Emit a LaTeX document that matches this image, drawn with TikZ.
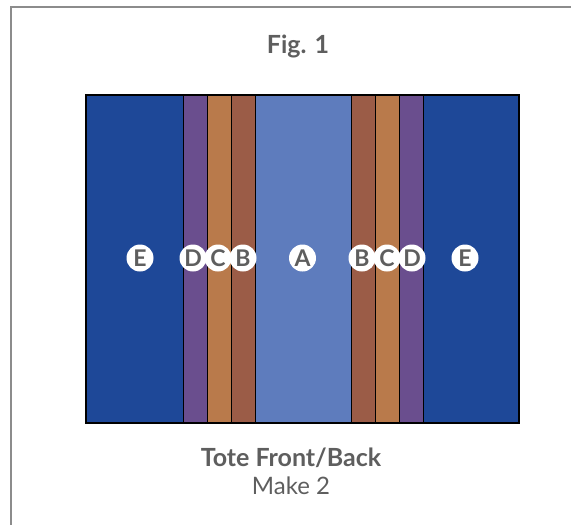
\documentclass[tikz,border=0pt]{standalone}
\usepackage{fontspec}
\setmainfont{Lato}
\definecolor{eblue}{HTML}{1E4898}
\definecolor{dpurple}{HTML}{6A4E8E}
\definecolor{corange}{HTML}{B97A4B}
\definecolor{bbrown}{HTML}{9B5C47}
\definecolor{ablue}{HTML}{5E7CBD}
\definecolor{txtgray}{HTML}{5E5E5E}
\definecolor{framegray}{HTML}{8C8C8C}
\begin{document}
\begin{tikzpicture}[x=1pt,y=-1pt,
  lbl/.style={circle,fill=white,inner sep=0pt,minimum size=27pt,text=txtgray,font=\bfseries\fontsize{23}{23}\selectfont},
  ttl/.style={text=txtgray}]
\useasboundingbox (0,0) rectangle (571,525);
\draw[framegray,line width=1.6pt] (11,525) -- (11,7) -- (571,7);
% strips
\fill[eblue] (86,95) rectangle (183,423);
\fill[dpurple] (183,95) rectangle (207,423);
\fill[corange] (207,95) rectangle (231,423);
\fill[bbrown] (231,95) rectangle (255,423);
\fill[ablue] (255,95) rectangle (351,423);
\fill[bbrown] (351,95) rectangle (375,423);
\fill[corange] (375,95) rectangle (399,423);
\fill[dpurple] (399,95) rectangle (423,423);
\fill[eblue] (423,95) rectangle (519,423);
\foreach \xx in {183,207,231,255,351,375,399,423}
  \draw[black,line width=0.9pt] (\xx,95) -- (\xx,423);
\draw[black,line width=1.2pt] (86,95) rectangle (519,423);
% labels
\node[lbl] (e1) at (140,258) {E};
\node[lbl] (d1) at (193,258) {D};
\node[lbl] (c1) at (218,258) {C};
\node[lbl] (b1) at (243,258) {B};
\node[lbl] (a) at (302.5,258) {A};
\node[lbl] (b2) at (362,258) {B};
\node[lbl] (c2) at (387,258) {C};
\node[lbl] (d2) at (412,258) {D};
\node[lbl] (e2) at (465,258) {E};
% titles
\node[ttl,font=\bfseries\fontsize{25}{25}\selectfont,anchor=base] (fig) at (298,53) {Fig. 1};
\node[ttl,font=\bfseries\fontsize{25}{25}\selectfont,anchor=base] (tote) at (291,466) {Tote Front/Back};
\node[ttl,font=\fontsize{24}{24}\selectfont,anchor=base] (make) at (291,494) {Make 2};
\end{tikzpicture}
\end{document}
